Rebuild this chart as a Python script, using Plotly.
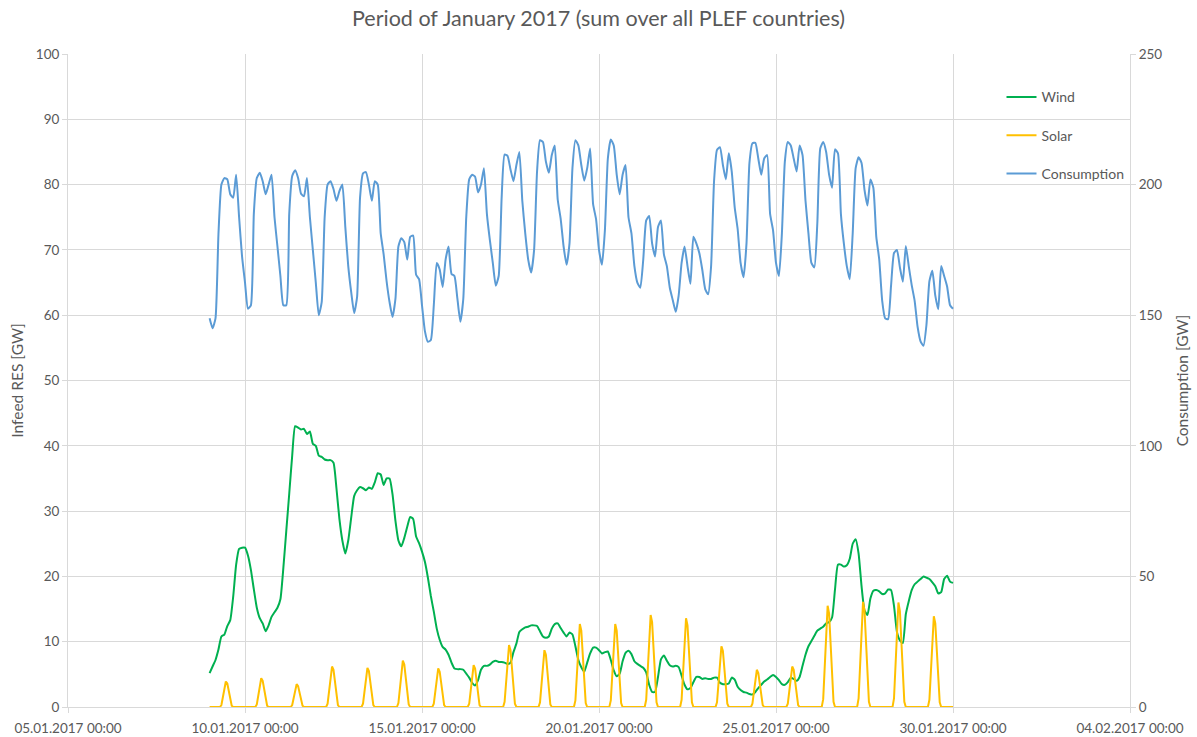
import pandas as pd
import plotly.graph_objects as go

# Time base: measurements from 09.01.2017 00:00 to 30.01.2017 00:00
start = pd.Timestamp("2017-01-09 00:00")

# Wind infeed [GW], 2-hourly
wind = [
    5.2, 6.2, 7.2, 8.8, 10.8, 11.1, 12.4, 13.3, 16.9, 21.8, 24.2, 24.4,
    24.4, 23.2, 21.0, 18.0, 15.2, 13.6, 12.8, 11.6, 12.5, 13.8, 14.5, 15.2,
    16.5, 21.3, 27.0, 32.7, 38.5, 43.0, 42.8, 42.5, 42.6, 41.8, 42.2, 40.3,
    40.0, 38.5, 38.3, 37.9, 37.8, 37.8, 37.4, 33.5, 28.8, 25.5, 23.5, 25.5,
    29.0, 32.3, 33.2, 33.7, 33.5, 33.2, 33.6, 33.4, 34.4, 35.8, 35.6, 34.0,
    35.0, 35.0, 32.6, 28.5, 25.5, 24.6, 25.9, 27.6, 29.1, 28.8, 26.1, 25.1,
    23.8, 22.2, 19.8, 17.0, 14.6, 12.0, 10.3, 9.2, 8.8, 8.0, 6.8, 5.9,
    5.8, 5.8, 5.7, 5.1, 4.5, 3.7, 3.3, 4.1, 5.7, 6.3, 6.3, 6.5,
    6.9, 7.1, 6.9, 6.9, 6.8, 6.6, 6.8, 8.4, 9.7, 11.5, 11.9, 12.2,
    12.3, 12.5, 12.5, 12.4, 11.6, 10.8, 10.6, 10.8, 12.0, 12.7, 12.8, 12.1,
    11.4, 10.8, 11.4, 11.1, 9.3, 7.2, 6.1, 5.4, 6.8, 8.2, 9.1, 9.1,
    8.7, 8.2, 8.4, 8.5, 7.2, 5.6, 4.7, 5.1, 7.0, 8.3, 8.6, 8.1,
    7.0, 6.6, 6.3, 6.0, 5.3, 3.4, 2.3, 2.3, 4.6, 7.3, 7.9, 7.1,
    6.4, 6.2, 6.3, 6.1, 4.8, 3.4, 2.7, 2.9, 3.8, 4.6, 4.6, 4.3,
    4.4, 4.3, 4.3, 4.5, 4.5, 3.7, 3.5, 3.5, 3.6, 4.5, 4.2, 3.1,
    2.6, 2.3, 2.2, 2.0, 1.9, 2.3, 2.9, 3.4, 3.9, 4.2, 4.6, 4.9,
    4.6, 4.1, 3.5, 3.4, 3.8, 4.5, 4.3, 4.0, 4.6, 6.3, 8.0, 9.3,
    10.1, 10.9, 11.7, 12.0, 12.3, 12.8, 13.0, 13.7, 18.0, 21.8, 21.8, 21.5,
    21.7, 22.7, 25.0, 25.7, 23.5, 18.5, 14.8, 14.1, 16.6, 17.8, 17.9, 17.7,
    17.3, 17.4, 18.0, 17.9, 15.5, 11.5, 10.2, 9.8, 14.2, 16.2, 17.9, 18.8,
    19.2, 19.6, 20.0, 19.8, 19.6, 19.1, 18.5, 17.4, 17.6, 19.6, 20.1, 19.2,
    19.0,
]

# Consumption [GW], 2-hourly
consumption = [
    148.8, 145.0, 148.8, 181.0, 200.0, 202.5, 202.0, 196.3, 195.0, 203.8, 187.5, 172.5,
    162.5, 152.5, 153.8, 189.0, 202.5, 204.5, 201.3, 196.3, 200.0, 203.8, 187.5, 176.3,
    165.0, 153.8, 153.8, 189.0, 203.3, 205.5, 202.5, 196.5, 195.5, 202.5, 187.5, 175.0,
    162.5, 150.0, 155.0, 187.5, 200.0, 201.3, 198.3, 193.8, 197.5, 200.0, 183.8, 168.8,
    158.8, 150.8, 157.0, 195.0, 204.3, 204.8, 200.0, 193.8, 201.3, 200.0, 181.3, 173.3,
    163.0, 155.0, 149.3, 156.3, 176.3, 179.5, 178.0, 171.3, 180.0, 180.5, 165.5, 163.8,
    153.8, 143.8, 139.8, 140.5, 153.8, 170.0, 167.5, 160.8, 171.3, 176.3, 165.8, 165.0,
    156.3, 147.5, 156.3, 187.5, 202.0, 203.8, 203.0, 197.0, 200.0, 206.3, 188.8, 178.8,
    170.0, 161.3, 165.0, 195.0, 211.5, 211.0, 205.8, 201.3, 207.5, 212.5, 193.8, 181.3,
    171.3, 166.3, 175.0, 205.0, 217.0, 216.3, 208.8, 204.5, 211.3, 215.0, 194.3, 187.0,
    176.3, 169.3, 177.5, 206.3, 217.0, 215.0, 207.5, 201.5, 206.3, 213.8, 192.5, 186.8,
    175.0, 169.3, 182.5, 210.0, 217.3, 215.0, 203.8, 196.3, 203.8, 207.5, 187.5, 181.3,
    168.8, 162.5, 160.5, 171.3, 186.3, 188.0, 177.5, 172.5, 183.8, 186.3, 173.3, 168.8,
    160.5, 155.8, 151.3, 157.5, 170.0, 176.3, 168.8, 162.0, 180.0, 177.5, 173.8, 167.5,
    160.0, 158.0, 168.8, 201.3, 213.3, 214.3, 207.5, 202.0, 212.0, 205.0, 191.3, 183.0,
    170.0, 164.5, 177.5, 208.3, 215.8, 216.0, 210.0, 203.8, 210.0, 211.3, 188.8, 182.5,
    170.0, 165.0, 181.3, 208.8, 216.3, 215.0, 210.0, 205.0, 215.0, 211.3, 193.8, 181.3,
    170.0, 168.3, 185.0, 213.8, 216.3, 212.5, 203.8, 198.8, 213.5, 212.0, 188.8, 177.5,
    168.8, 163.8, 181.3, 206.3, 210.5, 208.3, 198.0, 192.0, 202.0, 198.8, 180.0, 171.3,
    155.5, 148.8, 148.5, 161.3, 173.8, 175.0, 168.3, 162.8, 176.5, 168.8, 161.5, 155.5,
    145.5, 140.0, 138.3, 146.3, 163.0, 167.0, 157.5, 152.3, 168.8, 165.0, 161.0, 153.8,
    152.5,
]

# Solar infeed [GW], hourly values from 07:00 to 16:00 for each day (zero at night)
solar_daytime = [
    [0, 0.3, 1.5, 2.9, 3.9, 3.6, 2.4, 1.1, 0.2, 0],
    [0, 0.4, 1.7, 3.3, 4.4, 4.0, 2.7, 1.2, 0.2, 0],
    [0, 0.3, 1.3, 2.6, 3.5, 3.2, 2.2, 1.0, 0.2, 0],
    [0, 0.5, 2.4, 4.7, 6.2, 5.7, 3.8, 1.7, 0.3, 0],
    [0, 0.5, 2.3, 4.5, 6.0, 5.5, 3.7, 1.7, 0.3, 0],
    [0, 0.6, 2.7, 5.3, 7.1, 6.5, 4.4, 2.0, 0.4, 0],
    [0, 0.5, 2.2, 4.4, 5.9, 5.4, 3.7, 1.7, 0.3, 0],
    [0, 0.5, 2.4, 4.8, 6.4, 5.9, 4.0, 1.8, 0.3, 0],
    [0, 0.8, 3.6, 7.1, 9.5, 8.7, 5.9, 2.7, 0.5, 0],
    [0, 0.7, 3.3, 6.5, 8.7, 8.0, 5.4, 2.4, 0.4, 0],
    [0, 1.0, 4.8, 9.5, 12.7, 11.7, 7.9, 3.6, 0.6, 0],
    [0, 1.0, 4.8, 9.5, 12.7, 11.7, 7.9, 3.6, 0.6, 0],
    [0, 1.1, 5.4, 10.6, 14.1, 13.0, 8.7, 3.9, 0.7, 0],
    [0, 1.1, 5.2, 10.2, 13.6, 12.5, 8.4, 3.8, 0.7, 0],
    [0, 0.7, 3.5, 7.0, 9.3, 8.6, 5.8, 2.6, 0.5, 0],
    [0, 0.5, 2.2, 4.3, 5.7, 5.2, 3.5, 1.6, 0.3, 0],
    [0, 0.5, 2.4, 4.7, 6.2, 5.7, 3.8, 1.7, 0.3, 0],
    [0, 1.2, 5.9, 11.6, 15.5, 14.3, 9.6, 4.3, 0.8, 0],
    [0, 1.3, 6.1, 12.1, 16.1, 14.8, 10.0, 4.5, 0.8, 0],
    [0, 1.3, 6.1, 12.0, 16.0, 14.7, 9.9, 4.5, 0.8, 0],
    [0, 1.1, 5.3, 10.4, 13.9, 12.8, 8.6, 3.9, 0.7, 0],
]

x_ticks = pd.date_range("2017-01-05", "2017-02-04", freq="5D")
tick_text = [d.strftime("%d.%m.%Y %H:%M") for d in x_ticks]

# Build the time axes
t_2h = pd.date_range(start, periods=len(wind), freq="2h")
solar = []
for day in solar_daytime:
    solar += [0.0] * 7 + list(day) + [0.0] * 7
solar.append(0.0)
t_1h = pd.date_range(start, periods=len(solar), freq="h")

TXT = "#595959"
GRID = "#d9d9d9"
FONT = "Lato, Open Sans, sans-serif"

fig = go.Figure()
fig.add_trace(go.Scatter(x=t_2h, y=wind, name="Wind", mode="lines",
                         line=dict(color="#00b050", width=2, shape="spline",
                                   smoothing=0.5),
                         legendgroup="w"))
fig.add_trace(go.Scatter(x=t_1h, y=solar, name="Solar", mode="lines",
                         line=dict(color="#ffc000", width=2), legendgroup="s"))
fig.add_trace(go.Scatter(x=t_2h, y=consumption, name="Consumption", mode="lines",
                         line=dict(color="#5b9bd5", width=2, shape="spline",
                                   smoothing=0.5),
                         legendgroup="c", yaxis="y2"))

fig.update_layout(
    width=1197, height=737,
    margin=dict(l=68, r=67, t=54, b=30, autoexpand=False),
    paper_bgcolor="white", plot_bgcolor="white",
    font=dict(family=FONT, size=13, color=TXT),
    title=dict(text="Period of January 2017 (sum over all PLEF countries)",
               x=0.5, xanchor="center", y=0.975, yanchor="middle",
               font=dict(size=21.5, color=TXT, family=FONT)),
    xaxis=dict(
        type="date", range=[x_ticks[0], x_ticks[-1]], automargin=False,
        tickmode="array", tickvals=x_ticks, ticktext=tick_text,
        showgrid=True, gridcolor=GRID, gridwidth=1,
        showline=True, linecolor=GRID, mirror=False,
        ticks="outside", ticklen=5, tickcolor=GRID, ticklabelstandoff=4,
        tickfont=dict(size=13.5, color=TXT), zeroline=False,
    ),
    yaxis=dict(
        range=[0, 100], dtick=10, tick0=0, automargin=False,
        showgrid=True, gridcolor=GRID, gridwidth=1,
        showline=True, linecolor=GRID,
        ticks="outside", ticklen=5, tickcolor=GRID,
        tickfont=dict(size=13.5, color=TXT), zeroline=False,
        title=dict(text="Infeed RES [GW]", font=dict(size=15.5, color=TXT), standoff=8),
    ),
    yaxis2=dict(
        range=[0, 250], dtick=50, tick0=0, overlaying="y", side="right",
        automargin=False,
        showgrid=False, showline=True, linecolor=GRID,
        ticks="outside", ticklen=5, tickcolor=GRID,
        tickfont=dict(size=13.5, color=TXT), zeroline=False,
        title=dict(text="Consumption [GW]", font=dict(size=15.5, color=TXT), standoff=15),
    ),
    legend=dict(
        x=0.879, y=0.958, xanchor="left", yanchor="top",
        bgcolor="rgba(0,0,0,0)", font=dict(size=14, color=TXT),
        tracegroupgap=17, itemwidth=30,
    ),
    showlegend=True,
)

fig.write_html("out.html")
